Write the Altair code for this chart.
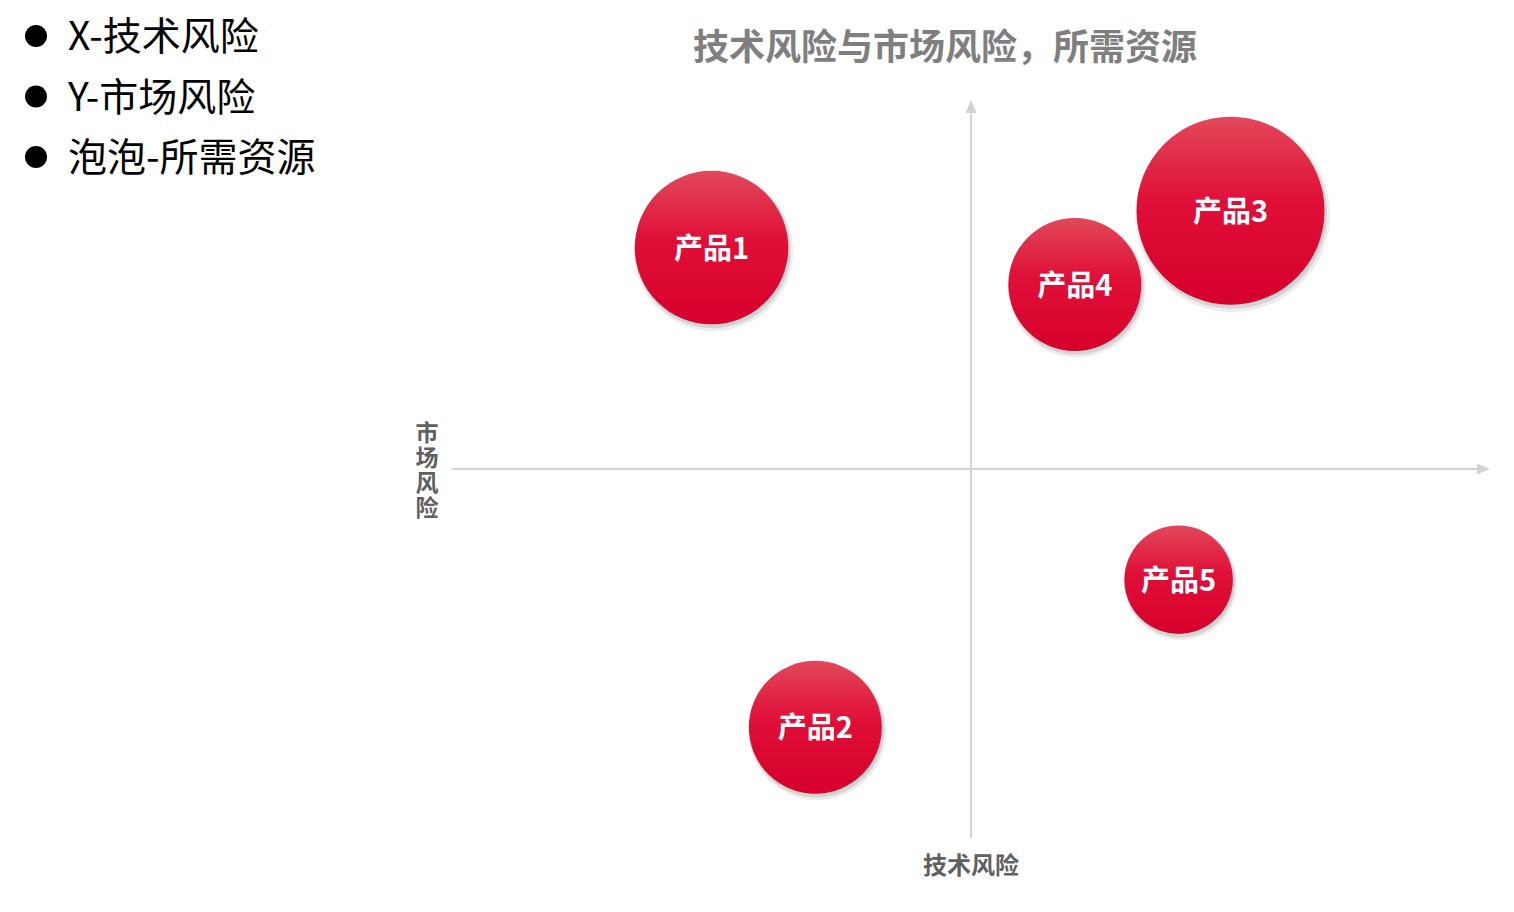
import altair as alt
import pandas as pd

# ---- data ----
products = ["产品1", "产品2", "产品3", "产品4", "产品5"]
tech_risk = [-5, -3, 5, 2, 4]          # X
market_risk = [6, -7, 7, 5, -3]        # Y
resources = [6, 4.5, 9, 4.5, 3]        # bubble size

legend_items = ["X-技术风险", "Y-市场风险", "泡泡-所需资源"]
title_text = "技术风险与市场风险，所需资源"
x_title = "技术风险"
y_title = "市场风险"

df = pd.DataFrame({"name": products, "x": tech_risk, "y": market_risk, "r": resources})

W, H = 1038, 738
xs = alt.Scale(domain=[-10, 10], range=[0, W], nice=False, zero=False)
ys = alt.Scale(domain=[-10, 10], range=[H, 0], nice=False, zero=False)
ss = alt.Scale(domain=[0, 9], range=[0, 35344], zero=True)

axis_col = "#d3d3d3"

# axis lines
vline = alt.Chart(pd.DataFrame({"y": [-10], "y2": [9.7], "x": [0]})).mark_rule(
    color=axis_col, strokeWidth=2
).encode(y=alt.Y("y:Q", scale=ys, axis=None), y2="y2:Q", x=alt.X("x:Q", scale=xs, axis=None))

hline = alt.Chart(pd.DataFrame({"x": [-10], "x2": [9.8], "y": [0]})).mark_rule(
    color=axis_col, strokeWidth=2
).encode(x=alt.X("x:Q", scale=xs, axis=None), x2="x2:Q", y=alt.Y("y:Q", scale=ys, axis=None))

arrow_up = alt.Chart(pd.DataFrame({"x": [0], "y": [10]})).mark_point(
    shape="M0,-1L-0.85,1L0.85,1Z", filled=True, color=axis_col, opacity=1, size=169, yOffset=6.5
).encode(x=alt.X("x:Q", scale=xs, axis=None), y=alt.Y("y:Q", scale=ys, axis=None))

arrow_right = alt.Chart(pd.DataFrame({"x": [10], "y": [0]})).mark_point(
    shape="M1,0L-1,-0.85L-1,0.85Z", filled=True, color=axis_col, opacity=1, size=169, xOffset=-6.5
).encode(x=alt.X("x:Q", scale=xs, axis=None), y=alt.Y("y:Q", scale=ys, axis=None))

base = alt.Chart(df).encode(
    x=alt.X("x:Q", scale=xs, axis=None),
    y=alt.Y("y:Q", scale=ys, axis=None),
)

shadow1 = base.mark_circle(color="#000000", opacity=0.07, xOffset=2, yOffset=4).encode(
    size=alt.Size("r:Q", scale=alt.Scale(domain=[0, 9], range=[0, 38000]), legend=None)
)
shadow2 = base.mark_circle(color="#000000", opacity=0.10, xOffset=1.5, yOffset=3).encode(
    size=alt.Size("r:Q", scale=alt.Scale(domain=[0, 9], range=[0, 36200]), legend=None)
)

grad = alt.Gradient(
    gradient="linear",
    x1=0, y1=0, x2=0, y2=1,
    stops=[
        alt.GradientStop(color="#e2485a", offset=0),
        alt.GradientStop(color="#e00f38", offset=0.45),
        alt.GradientStop(color="#d5002b", offset=1),
    ],
)

bubbles = base.mark_circle(color=grad, opacity=1).encode(
    size=alt.Size("r:Q", scale=ss, legend=None)
)

labels = base.mark_text(
    color="white", font="Noto Sans CJK SC", fontWeight="bold", fontSize=29,
    baseline="middle", align="center", dy=2
).encode(text="name:N")

# titles & annotations
title = alt.Chart(pd.DataFrame({"t": [title_text]})).mark_text(
    font="Noto Sans CJK SC", fontWeight="bold", fontSize=36, color="#7f7f7f", align="center", baseline="middle"
).encode(x=alt.value(945 - 452), y=alt.value(49 - 100), text="t:N")

xt = alt.Chart(pd.DataFrame({"t": [x_title]})).mark_text(
    font="Noto Sans CJK SC", fontWeight="bold", fontSize=24, color="#606060", align="center", baseline="middle"
).encode(x=alt.value(971 - 452), y=alt.value(867 - 100), text="t:N")

yt = alt.Chart(pd.DataFrame({"t": ["\n".join(list(y_title))]})).mark_text(
    font="Noto Sans CJK SC", fontWeight="bold", fontSize=23, color="#606060", align="center", baseline="middle",
    lineBreak="\n", lineHeight=25
).encode(x=alt.value(427 - 452), y=alt.value(434 - 100), text="t:N")

leg_df = pd.DataFrame({"t": legend_items, "i": [0, 1, 2]})
leg_y = alt.Scale(domain=[0, 2], range=[36 - 100, 157 - 100])
leg_dots = alt.Chart(leg_df).mark_circle(color="black", opacity=1, size=484).encode(
    x=alt.value(36 - 452), y=alt.Y("i:Q", scale=leg_y, axis=None)
)
leg_text = alt.Chart(leg_df).mark_text(
    font="Noto Sans CJK SC", fontSize=39, color="black", align="left", baseline="middle", dy=2
).encode(x=alt.value(68 - 452), y=alt.Y("i:Q", scale=leg_y, axis=None), text="t:N")

chart = alt.layer(
    hline, vline, arrow_up, arrow_right, shadow1, shadow2, bubbles, labels,
    title, xt, yt, leg_dots, leg_text
).resolve_scale(size="independent", y="independent").properties(
    width=W, height=H,
    padding={"left": 444, "top": 92, "right": 16, "bottom": 58},
    autosize=alt.AutoSizeParams(type="none"),
).configure_view(stroke=None)

chart.save("out.html", embed_options={"renderer": "svg", "actions": False})
